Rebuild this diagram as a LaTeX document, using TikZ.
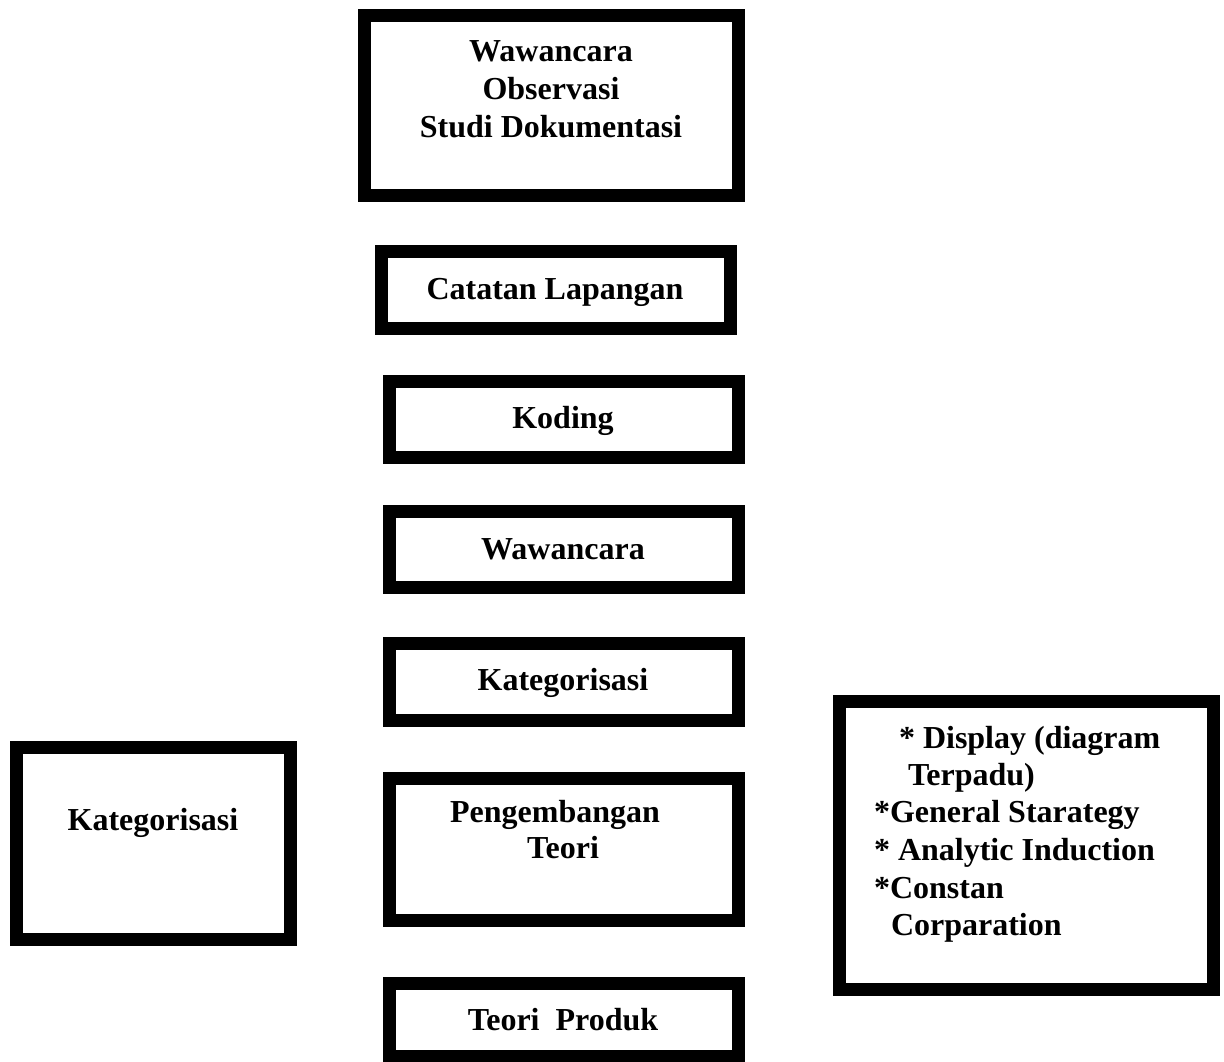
\documentclass[tikz,border=0pt]{standalone}
\usepackage{fontspec}
\setmainfont{Liberation Serif}
\begin{document}
\begin{tikzpicture}[x=1pt,y=-1pt,
  box/.style={draw=black, line width=13pt, fill=white, inner sep=0pt, outer sep=0pt},
  lbl/.style={inner sep=0pt, outer sep=0pt, font=\fontsize{32}{37}\selectfont\bfseries, anchor=base},
  lblw/.style={lbl, anchor=base west}]
\useasboundingbox[fill=white] (0,0) rectangle (1224,1061);
% boxes
\node[box, minimum width=374pt, minimum height=180pt] (b1) at (551.5,105.5) {};
\node[box, minimum width=349pt, minimum height=77pt] (b2) at (556,290) {};
\node[box, minimum width=349pt, minimum height=76pt] (b3) at (564,419.5) {};
\node[box, minimum width=349pt, minimum height=76pt] (b4) at (564,549.5) {};
\node[box, minimum width=349pt, minimum height=77pt] (b5) at (564,682) {};
\node[box, minimum width=349pt, minimum height=142pt] (b6) at (564,849.5) {};
\node[box, minimum width=349pt, minimum height=73pt] (b7) at (564,1020) {};
\node[box, minimum width=274pt, minimum height=192pt] (bl) at (153.5,843.5) {};
\node[box, minimum width=374pt, minimum height=288pt] (br) at (1026.5,845.5) {};
% texts
\node[lbl] (t1a) at (551,61) {Wawancara};
\node[lbl] (t1b) at (551,99) {Observasi};
\node[lbl] (t1c) at (551,137) {Studi Dokumentasi};
\node[lbl] (t2) at (555,299) {Catatan Lapangan};
\node[lbl] (t3) at (563,428) {Koding};
\node[lbl] (t4) at (563,559) {Wawancara};
\node[lbl] (t5) at (563,690) {Kategorisasi};
\node[lbl] (t6a) at (555,822) {Pengembangan};
\node[lbl] (t6b) at (563,858) {Teori};
\node[lbl] (t7) at (563,1030) {Teori~ Produk};
\node[lbl] (tl) at (153,830) {Kategorisasi};
\node[lblw] (tr1) at (899,748) {* Display (diagram};
\node[lblw] (tr2) at (908,785) {Terpadu)};
\node[lblw] (tr3) at (874,822) {*General Starategy};
\node[lblw] (tr4) at (874,860) {* Analytic Induction};
\node[lblw] (tr5) at (874,898) {*Constan};
\node[lblw] (tr6) at (891,935) {Corparation};
\end{tikzpicture}
\end{document}
